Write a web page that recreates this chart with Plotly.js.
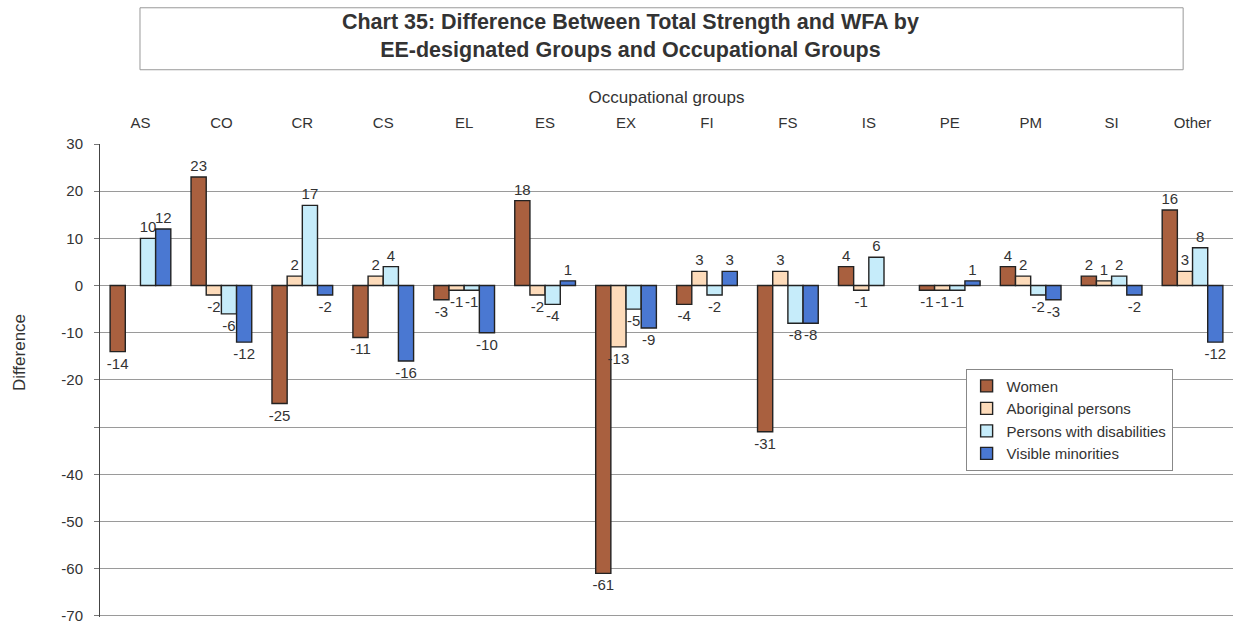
<!DOCTYPE html>
<html>
<head>
<meta charset="utf-8">
<script src="https://cdn.plot.ly/plotly-3.0.1.min.js"></script>
<style>html,body{margin:0;padding:0;background:#fff;}#chart{width:1241px;height:623px;}</style>
</head>
<body>
<div id="chart"></div>
<script>
const categories = ['AS','CO','CR','CS','EL','ES','EX','FI','FS','IS','PE','PM','SI','Other'];
const women      = [-14, 23, -25, -11, -3, 18, -61, -4, -31, 4, -1, 4, 2, 16];
const aboriginal = [null, -2, 2, 2, -1, -2, -13, 3, 3, -1, -1, 2, 1, 3];
const disabilities = [10, -6, 17, 4, -1, -4, -5, -2, -8, 6, -1, -2, 2, 8];
const visible    = [12, -12, -2, -16, -10, 1, -9, 3, -8, null, 1, -3, -2, -12];
const seriesNames = ['Women','Aboriginal persons','Persons with disabilities','Visible minorities'];
const yTickVals = [30, 20, 10, 0, -10, -20, -30, -40, -50, -60, -70];
const yTickText = ['30','20','10','0','-10','-20','','-40','-50','-60','-70'];

const colors = ['#A9603F', '#FDDBBA', '#C6ECFA', '#4A78D2'];
const seriesData = [women, aboriginal, disabilities, visible];

const traces = seriesData.map((vals, i) => ({
  type: 'bar',
  name: seriesNames[i],
  x: categories,
  y: vals,
  text: vals.map(v => v === null ? '' : String(v)),
  textposition: 'outside',
  textangle: 0,
  constraintext: 'none',
  cliponaxis: false,
  textfont: {family: 'Liberation Sans, Arial, sans-serif', size: 15, color: '#333'},
  marker: {color: colors[i], line: {color: '#222', width: 1.4}},
  hoverinfo: 'x+y+name'
}));

const font = {family: 'Liberation Sans, Arial, sans-serif', color: '#333'};

const layout = {
  width: 1241, height: 623,
  margin: {l: 100, r: 8, t: 144, b: 6},
  paper_bgcolor: '#fff', plot_bgcolor: '#fff',
  font: font,
  title: {
    text: '<b>Chart 35: Difference Between Total Strength and WFA by<br>EE-designated Groups and Occupational Groups</b>',
    font: {family: 'Liberation Sans, Arial, sans-serif', size: 21.5, color: '#333'},
    x: 0.508, xanchor: 'center', y: 0.953, yanchor: 'middle'
  },
  barmode: 'group',
  bargap: 0.25,
  bargroupgap: 0,
  showlegend: true,
  legend: {
    x: 0.764, y: 0.525, xanchor: 'left', yanchor: 'top',
    bordercolor: '#888', borderwidth: 1, bgcolor: '#fff',
    font: {family: 'Liberation Sans, Arial, sans-serif', size: 15, color: '#333'},
    traceorder: 'normal', itemwidth: 30
  },
  xaxis: {
    type: 'category',
    side: 'top',
    range: [-0.5, 13.5],
    showgrid: false, showline: false, zeroline: false,
    ticks: '',
    ticklabelstandoff: 12,
    tickfont: {size: 15, color: '#333'},
    title: {text: 'Occupational groups', font: {size: 17, color: '#333'}, standoff: 6},
    fixedrange: true
  },
  xaxis2: {
    overlaying: 'x',
    anchor: 'free',
    position: 0.702,
    type: 'linear',
    range: [-0.5, 13.5],
    tick0: -0.5, dtick: 1,
    showgrid: false, zeroline: false,
    showline: true, linecolor: '#444', linewidth: 1,
    ticks: 'outside', ticklen: 4, tickcolor: '#777',
    showticklabels: false
  },
  yaxis: {
    range: [-70.25, 30],
    tickmode: 'array', tickvals: yTickVals, ticktext: yTickText,
    showgrid: true, gridcolor: '#9a9a9a', gridwidth: 1,
    showline: true, linecolor: '#444', linewidth: 1,
    zeroline: false,
    ticks: 'outside', ticklen: 5, tickcolor: '#777',
    ticklabelstandoff: 8,
    ticklabeloverflow: 'allow',
    tickfont: {size: 15, color: '#333'},
    fixedrange: true
  },
  shapes: [{
    type: 'rect', xref: 'paper', yref: 'paper',
    x0: 0.0353, x1: 0.956, y0: 1.157, y1: 1.288,
    line: {color: '#999', width: 1}, fillcolor: 'rgba(0,0,0,0)'
  }],
  annotations: [{
    text: 'Difference', xref: 'paper', yref: 'paper',
    x: -0.0715, y: 0.56, textangle: -90, showarrow: false,
    xanchor: 'center', yanchor: 'middle',
    font: {size: 17, color: '#333'}
  }]
};

Plotly.newPlot('chart', traces, layout, {displayModeBar: false, staticPlot: true});
</script>
</body>
</html>
